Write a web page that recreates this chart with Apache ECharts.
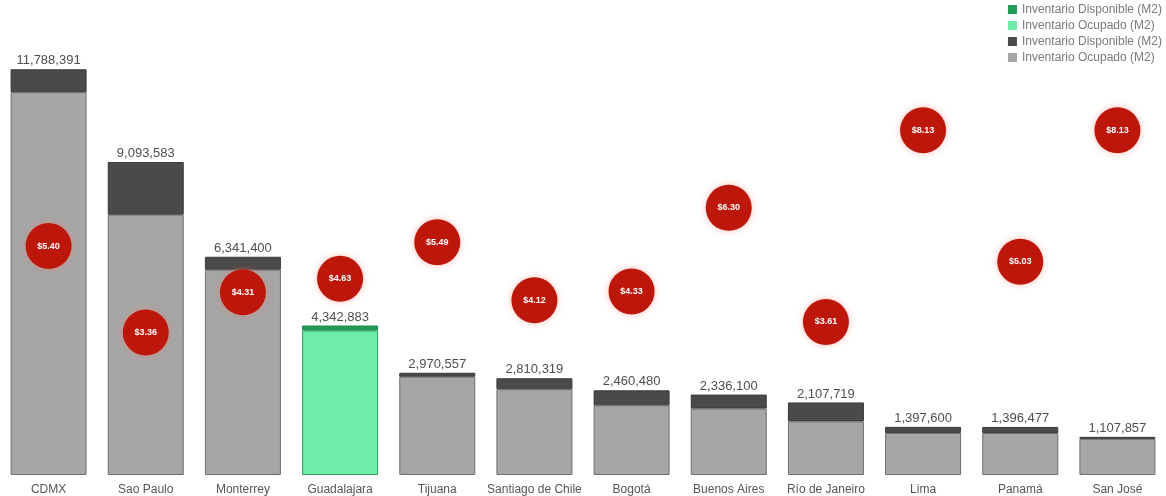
<!DOCTYPE html>
<html>
<head>
<meta charset="utf-8">
<script src="https://cdn.jsdelivr.net/npm/echarts@6/dist/echarts.min.js"></script>
<style>
  html, body { margin: 0; padding: 0; background: #ffffff; }
  #chart { width: 1166px; height: 496px; }
</style>
</head>
<body>
<div id="chart"></div>
<script>
// Markets, in display order
const cities = ['CDMX', 'Sao Paulo', 'Monterrey', 'Guadalajara', 'Tijuana', 'Santiago de Chile',
  'Bogotá', 'Buenos Aires', 'Río de Janeiro', 'Lima', 'Panamá', 'San José'];

// Occupied inventory (m²)
const occupied = [11123391, 7563583, 5965400, 4197883, 2855557, 2490319,
  2025480, 1931100, 1557719, 1222600, 1221477, 1049857];

// Available inventory (m²)
const available = [665000, 1530000, 376000, 145000, 115000, 320000,
  435000, 405000, 550000, 175000, 175000, 58000];

// Asking rent (USD / m² / month)
const prices = [5.40, 3.36, 4.31, 4.63, 5.49, 4.12, 4.33, 6.30, 3.61, 8.13, 5.03, 8.13];

// Highlighted market
const highlight = 'Guadalajara';

const legendText = {
  dispHl: 'Inventario Disponible (M2)',
  ocupHl: 'Inventario Ocupado (M2)',
  disp: 'Inventario Disponible (M2)',
  ocup: 'Inventario Ocupado (M2)'
};

const isHl = i => cities[i] === highlight;
const pick = (arr, hl) => arr.map((v, i) => (isHl(i) === hl ? v : '-'));
const totalLabel = p => (occupied[p.dataIndex] + available[p.dataIndex]).toLocaleString('en-US');

const font = '"Liberation Sans", Arial, Helvetica, sans-serif';

const totalLabelStyle = {
  show: true,
  position: 'top',
  distance: 2,
  formatter: totalLabel,
  color: '#4f4f4f',
  fontSize: 13,
  fontFamily: font
};

const chart = echarts.init(document.getElementById('chart'), null, { renderer: 'canvas' });

chart.setOption({
  animation: false,
  backgroundColor: '#ffffff',
  grid: { left: -1, right: -6, top: 62, bottom: 20, containLabel: false },
  legend: {
    orient: 'vertical',
    right: 4,
    top: 3,
    padding: 0,
    itemWidth: 9,
    itemHeight: 9,
    itemGap: 3,
    icon: 'rect',
    itemStyle: { borderWidth: 0 },
    data: ['dispHl', 'ocupHl', 'disp', 'ocup'],
    formatter: name => legendText[name],
    textStyle: { color: '#7a7a7a', fontSize: 12, lineHeight: 13, fontFamily: font }
  },
  xAxis: {
    type: 'category',
    data: cities,
    axisLine: { show: false },
    axisTick: { show: false },
    axisLabel: { color: '#555', fontSize: 12, fontFamily: font, margin: 9, interval: 0 }
  },
  yAxis: [
    { type: 'value', min: 0, max: 12000000, show: false, splitLine: { show: false } },
    { type: 'value', min: 0, max: 9.74, show: false, splitLine: { show: false } }
  ],
  series: [
    {
      name: 'ocup', type: 'bar', stack: 'inv', barWidth: 76,
      data: pick(occupied, false),
      itemStyle: { color: '#a6a6a6', borderColor: '#6e6e6e', borderWidth: 1 }
    },
    {
      name: 'disp', type: 'bar', stack: 'inv', barWidth: 76,
      data: pick(available, false),
      itemStyle: { color: '#4a4a4a', borderColor: '#3a3a3a', borderWidth: 1 },
      label: totalLabelStyle
    },
    {
      name: 'ocupHl', type: 'bar', stack: 'inv', barWidth: 76,
      data: pick(occupied, true),
      itemStyle: { color: '#6eecaa', borderColor: '#2f9e5e', borderWidth: 1 }
    },
    {
      name: 'dispHl', type: 'bar', stack: 'inv', barWidth: 76,
      data: pick(available, true),
      itemStyle: { color: '#229a58', borderColor: '#1c8a4c', borderWidth: 1 },
      label: totalLabelStyle
    },
    {
      name: 'precio', type: 'scatter', yAxisIndex: 1,
      data: prices,
      symbolSize: 46,
      z: 5,
      itemStyle: {
        color: '#bd170b',
        opacity: 1,
        shadowColor: 'rgba(255, 120, 100, 0.5)',
        shadowBlur: 6
      },
      label: {
        show: true,
        position: 'inside',
        formatter: p => '$' + p.value.toFixed(2),
        color: '#ffffff',
        fontSize: 9,
        fontWeight: 'bold',
        fontFamily: font
      }
    }
  ]
});
</script>
</body>
</html>
